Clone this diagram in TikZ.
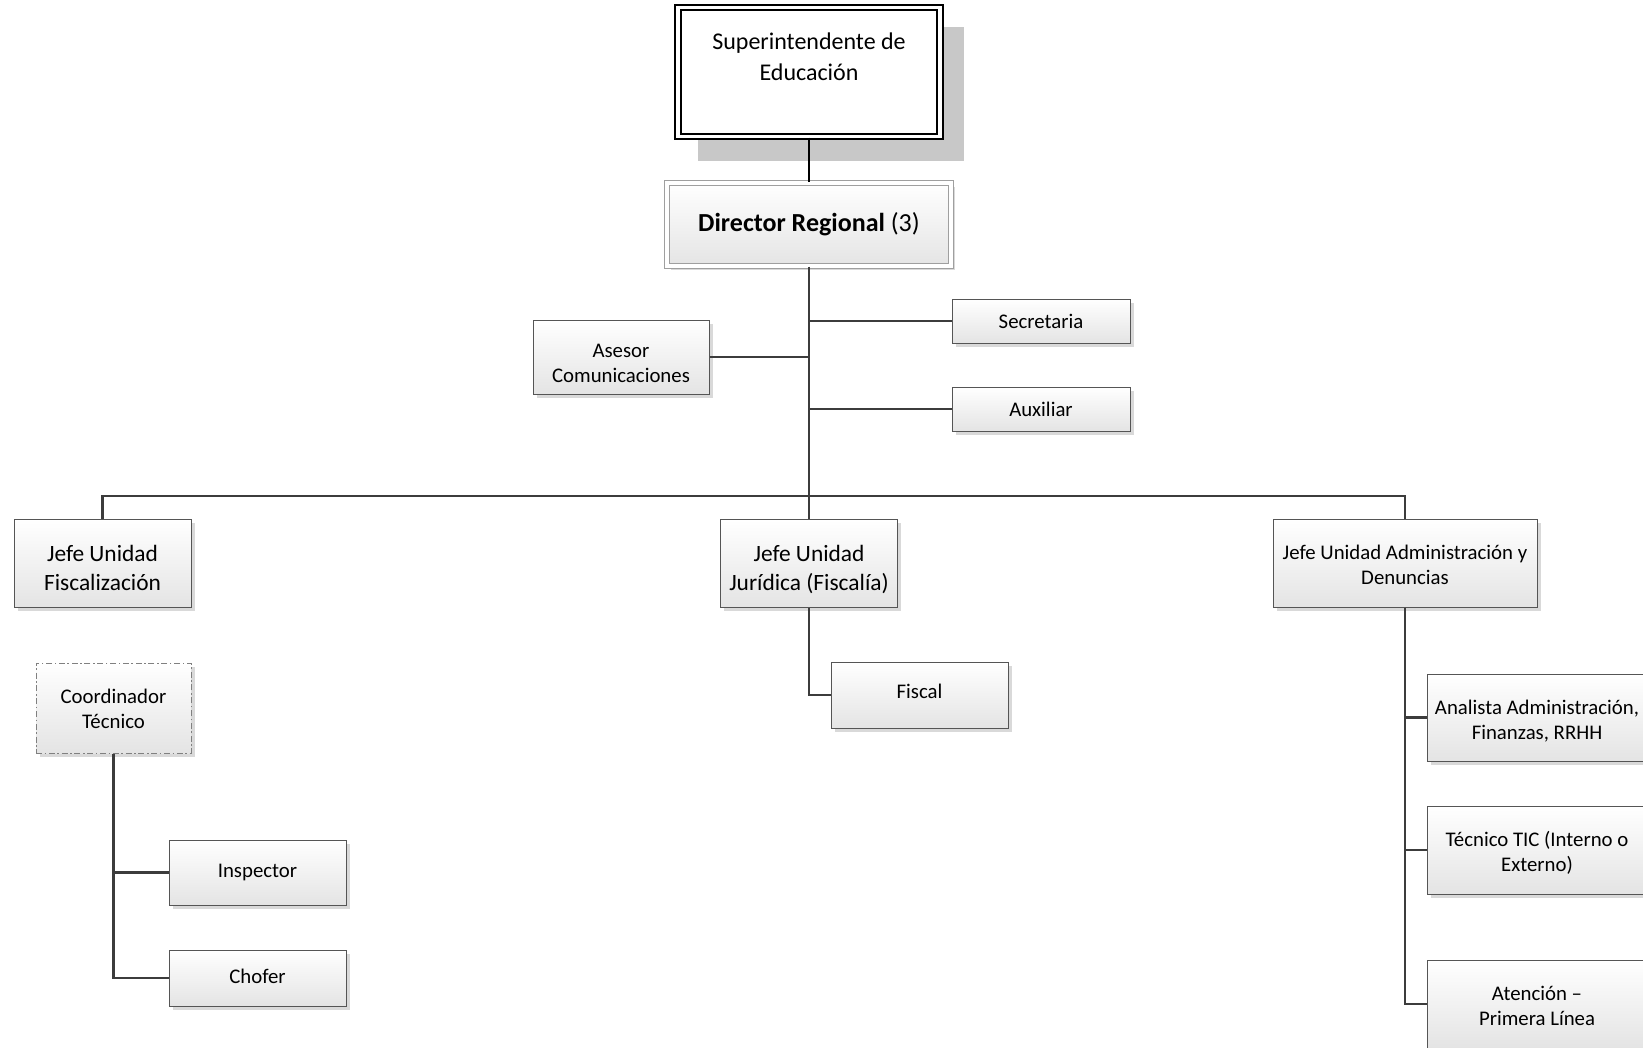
\documentclass[tikz,border=0pt]{standalone}
\usepackage{fontspec}
\setmainfont{Carlito}
\usetikzlibrary{shadows}
\definecolor{boxline}{RGB}{85,85,85}
\definecolor{connline}{RGB}{60,60,60}
\definecolor{shadowgray}{RGB}{200,200,200}
\definecolor{boxshade}{RGB}{228,228,228}
\newcommand{\dnl}[1]{\rule{0pt}{\dimexpr0.7em+#1\relax}}
\tikzset{
  orgbox/.style={rectangle, draw=boxline, line width=0.5pt, top color=white, bottom color=boxshade,
    align=center, inner sep=2pt, text=black,
    drop shadow={shadow xshift=1.8pt, shadow yshift=-1.8pt, fill=gray!30, opacity=1}},
  smalltext/.style={font=\fontsize{10.4}{12.5}\selectfont},
  jefetext/.style={font=\fontsize{11.7}{14.5}\selectfont},
  conn/.style={draw=connline, line width=1.4pt},
  thinconn/.style={draw=black, line width=0.9pt},
}
\begin{document}
\begin{tikzpicture}[x=0.5pt, y=-0.5pt]
\useasboundingbox (0,0) rectangle (1643,1048);
\clip (0,0) rectangle (1643,1048);
\fill[white] (0,0) rectangle (1643,1048);

% Superintendente
\fill[shadowgray] (698,27) rectangle (964,161);
\node[rectangle, draw=black, line width=1.1pt, double=white, double distance=1.6pt, fill=white,
  minimum width=131pt, minimum height=64.5pt, align=center,
  font=\fontsize{12}{15.5}\selectfont] (super) at (809,72) {Superintendente de\\Educación\\\mbox{}};

% Director
\node[orgbox, draw=gray!75, double=white, double distance=2pt, line width=0.6pt,
  minimum width=142pt, minimum height=41.5pt,
  font=\fontsize{13}{16}\selectfont] (director) at (809,224.5) {\raisebox{2pt}{\textbf{Director Regional} (3)}};

% staff
\node[orgbox, smalltext, minimum width=89pt, minimum height=22pt] (sec) at (1041,321) {Secretaria};
\node[orgbox, smalltext, minimum width=89pt, minimum height=22pt] (aux) at (1041,409) {Auxiliar};
\node[orgbox, smalltext, minimum width=88pt, minimum height=37pt] (asesor) at (621,357) {\dnl{5.4pt}Asesor\\Comunicaciones};

% jefes
\node[orgbox, jefetext, minimum width=88.5pt, minimum height=44pt] (fisc) at (102.5,563) {\dnl{5pt}Jefe Unidad\\Fiscalización};
\node[orgbox, jefetext, minimum width=88.5pt, minimum height=44pt] (jur) at (809,563.5) {\dnl{5.5pt}Jefe Unidad\\Jurídica (Fiscalía)};
\node[orgbox, smalltext, minimum width=132pt, minimum height=44pt] (adm) at (1405,563) {\dnl{2pt}Jefe Unidad Administración y\\Denuncias};

% fiscalizacion branch
\node[orgbox, smalltext, draw=gray, dash pattern=on 3pt off 1.3pt on 0.8pt off 1.3pt,
  minimum width=77.5pt, minimum height=45pt] (coord) at (113.5,708) {\dnl{1pt}Coordinador\\Técnico};
\node[orgbox, smalltext, minimum width=88.5pt, minimum height=32.5pt] (insp) at (257.5,872.5) {\raisebox{1pt}{Inspector}};
\node[orgbox, smalltext, minimum width=88.5pt, minimum height=28pt] (chofer) at (257.5,978) {\raisebox{1.5pt}{Chofer}};

% juridica branch
\node[orgbox, smalltext, minimum width=88.5pt, minimum height=33pt] (fiscal) at (919.5,695) {\raisebox{4pt}{Fiscal}};

% administracion branch
\node[orgbox, smalltext, minimum width=110pt, minimum height=43.5pt] (analista) at (1537,717.5) {\dnl{4pt}Analista Administración,\\Finanzas, RRHH};
\node[orgbox, smalltext, minimum width=110pt, minimum height=44pt] (tecnico) at (1537,850) {\dnl{3pt}Técnico TIC (Interno o\\Externo)};
\node[orgbox, smalltext, minimum width=110pt, minimum height=44pt] (atencion) at (1537,1004) {\dnl{2pt}Atención –\\Primera Línea};

% connectors
\coordinate (bar) at (0,496);
\draw[thinconn] (super.south) -- (director.north);
\draw[conn] (director.south) -- (jur.north);
\draw[conn] (fisc.north) -- (fisc.north |- bar) -- (adm.north |- bar) -- (adm.north);
\draw[conn] (sec.west) -- (sec.west -| director.south);
\draw[conn] (aux.west) -- (aux.west -| director.south);
\draw[conn] (asesor.east) -- (asesor.east -| director.south);
\draw[conn] (jur.south) |- (fiscal.west);
\draw[conn] (coord.south) |- (insp.west);
\draw[conn] (coord.south) |- (chofer.west);
\draw[conn] (adm.south) |- (analista.west);
\draw[conn] (adm.south) |- (tecnico.west);
\draw[conn] (adm.south) |- (atencion.west);
\end{tikzpicture}
\end{document}
